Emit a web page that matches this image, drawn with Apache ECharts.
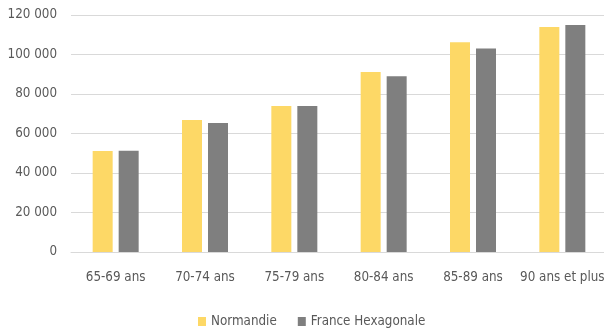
<!DOCTYPE html>
<html>
<head>
<meta charset="utf-8">
<script src="https://cdn.jsdelivr.net/npm/echarts@6/dist/echarts.min.js"></script>
<style>
  html, body { margin: 0; padding: 0; background: #fff; }
  #chart { width: 604px; height: 331px; }
</style>
</head>
<body>
<div id="chart"></div>
<script>
// Population by age group, 65 and over
const categories = ['65-69 ans', '70-74 ans', '75-79 ans', '80-84 ans', '85-89 ans', '90 ans et plus'];
const normandie = [51200, 66800, 73900, 91100, 106200, 113900];
const franceHexagonale = [51300, 65300, 73900, 89000, 103100, 114900];
const seriesNames = ['Normandie', 'France Hexagonale'];

const FONT = "'DejaVu Sans Condensed', 'Open Sans', sans-serif";
const FONT_SIZE = 13.3;
const TEXT_COLOR = '#595959';

function fmt(v) {
  return String(v).replace(/\B(?=(\d{3})+(?!\d))/g, ' ');
}

const chart = echarts.init(document.getElementById('chart'), null, { renderer: 'canvas' });
chart.setOption({
  animation: false,
  backgroundColor: '#ffffff',
  textStyle: { fontFamily: FONT },
  grid: {
    left: 71, top: 15, width: 536, height: 237,
    containLabel: false,
    outerBoundsMode: 'none'
  },
  legend: {
    data: seriesNames,
    left: 193,
    top: 310,
    itemWidth: 8,
    itemHeight: 9,
    itemGap: 21,
    icon: 'rect',
    textStyle: { fontFamily: FONT, fontSize: FONT_SIZE, color: TEXT_COLOR }
  },
  xAxis: {
    type: 'category',
    data: categories,
    axisLine: { lineStyle: { color: '#d9d9d9', width: 1 } },
    axisTick: { show: false },
    axisLabel: { fontFamily: FONT, fontSize: FONT_SIZE, color: TEXT_COLOR, margin: 19, interval: 0 }
  },
  yAxis: {
    type: 'value',
    min: 0,
    max: 120000,
    interval: 20000,
    axisLine: { show: false },
    axisTick: { show: false },
    splitLine: { lineStyle: { color: '#d9d9d9', width: 1 } },
    axisLabel: { fontFamily: FONT, fontSize: FONT_SIZE, color: TEXT_COLOR, margin: 14, formatter: fmt }
  },
  series: [
    {
      name: seriesNames[0],
      type: 'bar',
      data: normandie,
      barWidth: 20,
      barGap: '30%',
      itemStyle: { color: '#fdd866' }
    },
    {
      name: seriesNames[1],
      type: 'bar',
      data: franceHexagonale,
      barWidth: 20,
      itemStyle: { color: '#7f7f7f' }
    }
  ]
});
</script>
</body>
</html>
